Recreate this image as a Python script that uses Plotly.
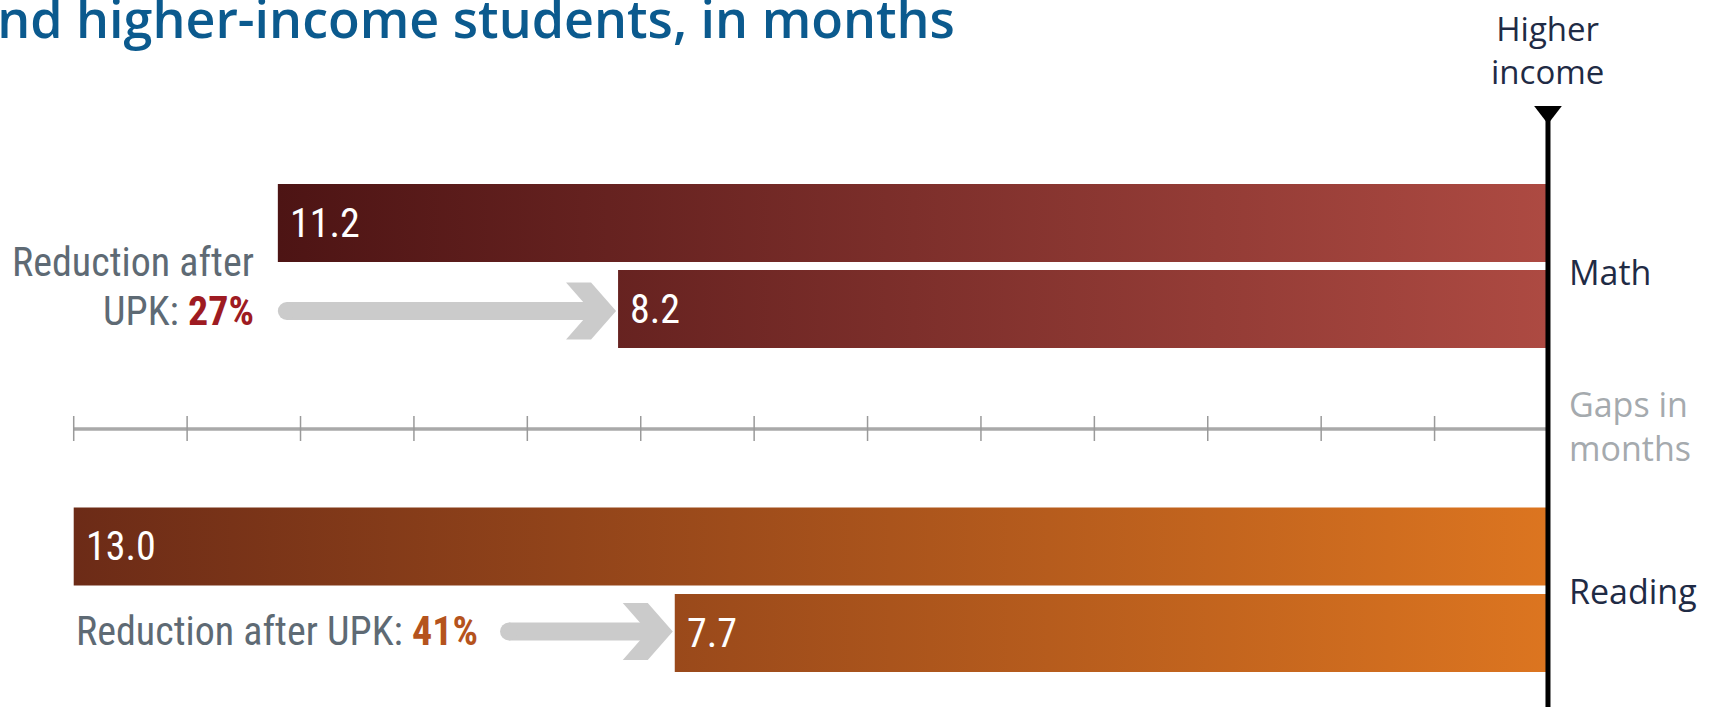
import plotly.graph_objects as go

# ---- data -------------------------------------------------------------
subjects = ["Math", "Reading"]
gap_without_upk = [11.2, 13.0]   # months behind higher-income peers
gap_after_upk = [8.2, 7.7]       # months behind after universal pre-K
tick_months = list(range(-13, 0))

# ---- layout constants -------------------------------------------------
W, H = 1725, 707
X_MIN, X_MAX = -13.65, 1.561
PX = W / (X_MAX - X_MIN)          # pixels per month on the x axis

ROW_Y = {"Math": (223, 309), "Reading": (546.5, 633)}
BAR_H = 78
GRAD = {"Math": ("#4d1414", "#ad4a42"), "Reading": ("#6c2b17", "#dc7520")}
PCT_COLOR = {"Math": "#9e1b22", "Reading": "#b5531d"}
ARROW_GREY = "#cbcbcb"
LABEL_GREY = "#5e6a74"
NAVY = "#1f2b45"

NARROW = "Liberation Sans Narrow, Arial Narrow, Roboto Condensed, sans-serif"
REGULAR = "Open Sans, Noto Sans, sans-serif"

AXIS_Y = 429

fig = go.Figure()


def px_to_months(p):
    return p / PX


# ---- bars with a horizontal gradient -----------------------------------
for subj, before, after in zip(subjects, gap_without_upk, gap_after_upk):
    c0, c1 = GRAD[subj]
    for val, yc in zip((before, after), ROW_Y[subj]):
        top, bot = yc - BAR_H / 2, yc + BAR_H / 2
        fig.add_trace(go.Scatter(
            x=[-val, 0, 0, -val, -val],
            y=[top, top, bot, bot, top],
            mode="lines", line=dict(width=0),
            fill="toself",
            fillgradient=dict(type="horizontal",
                              colorscale=[[0, c0], [1, c1]],
                              start=-before, stop=0),
            hoverinfo="skip", showlegend=False,
        ))
        fig.add_annotation(
            x=-val, y=yc, xref="x", yref="y", xanchor="left", yanchor="middle",
            xshift=10, text=f"{val:.1f}", showarrow=False,
            font=dict(family=NARROW, size=40, color="white"),
        )

# ---- grey reduction arrows ---------------------------------------------
ARROW_START_PX = {"Math": None, "Reading": 500}
CHEV_W, CHEV_ARM, CHEV_HALF, SHAFT = 50, 25, 28.5, 18
ARROW_Y = {"Math": 311, "Reading": 631.5}

for subj, before, after in zip(subjects, gap_without_upk, gap_after_upk):
    y = ARROW_Y[subj]
    tip = -after - px_to_months(2)
    if ARROW_START_PX[subj] is None:
        start = -before + px_to_months(SHAFT / 2)
    else:
        start = X_MIN + px_to_months(ARROW_START_PX[subj] + SHAFT / 2)
    notch = tip - px_to_months(CHEV_ARM)
    back = tip - px_to_months(CHEV_W)
    # shaft
    fig.add_trace(go.Scatter(
        x=[start, notch + px_to_months(4), notch + px_to_months(4), start, start],
        y=[y - SHAFT / 2, y - SHAFT / 2, y + SHAFT / 2, y + SHAFT / 2, y - SHAFT / 2],
        mode="lines", line=dict(width=0), fill="toself", fillcolor=ARROW_GREY,
        hoverinfo="skip", showlegend=False,
    ))
    # rounded tail
    fig.add_trace(go.Scatter(
        x=[start], y=[y], mode="markers",
        marker=dict(symbol="circle", size=SHAFT, color=ARROW_GREY, line=dict(width=0)),
        hoverinfo="skip", showlegend=False,
    ))
    # chevron head
    fig.add_trace(go.Scatter(
        x=[back, notch, tip, notch, back, back + px_to_months(CHEV_ARM), back],
        y=[y - CHEV_HALF, y - CHEV_HALF, y, y + CHEV_HALF, y + CHEV_HALF, y, y - CHEV_HALF],
        mode="lines", line=dict(width=0), fill="toself", fillcolor=ARROW_GREY,
        hoverinfo="skip", showlegend=False,
    ))

# ---- month scale ---------------------------------------------------------
fig.add_trace(go.Scatter(
    x=[tick_months[0], 0], y=[AXIS_Y, AXIS_Y], mode="lines",
    line=dict(color="#a9a9a9", width=3.5), hoverinfo="skip", showlegend=False,
))
tx, ty = [], []
for m in tick_months:
    tx += [m, m, None]
    ty += [AXIS_Y - 13, AXIS_Y + 12, None]
fig.add_trace(go.Scatter(
    x=tx, y=ty, mode="lines", line=dict(color="#9a9a9a", width=1.5),
    hoverinfo="skip", showlegend=False,
))

# ---- higher-income reference line ----------------------------------------
fig.add_trace(go.Scatter(
    x=[0, 0], y=[118, H + 5], mode="lines", line=dict(color="black", width=5),
    hoverinfo="skip", showlegend=False,
))
fig.add_trace(go.Scatter(
    x=[0], y=[112], mode="markers",
    marker=dict(symbol="triangle-down", size=24, color="black", line=dict(width=0)),
    hoverinfo="skip", showlegend=False,
))

# ---- text ------------------------------------------------------------------
pct = {s: round((b - a) / b * 100) for s, b, a in zip(subjects, gap_without_upk, gap_after_upk)}

fig.add_annotation(
    x=-gap_without_upk[0] - px_to_months(22), y=262, xref="x", yref="y",
    xanchor="right", yanchor="middle", showarrow=False, text="Reduction after",
    font=dict(family=NARROW, size=40, color=LABEL_GREY),
)
fig.add_annotation(
    x=-gap_without_upk[0] - px_to_months(22), y=311, xref="x", yref="y",
    xanchor="right", yanchor="middle", showarrow=False,
    text=f"UPK: <b><span style='color:{PCT_COLOR['Math']}'>{pct['Math']}%</span></b>",
    font=dict(family=NARROW, size=40, color=LABEL_GREY),
)
fig.add_annotation(
    x=-gap_without_upk[1], y=631, xref="x", yref="y",
    xanchor="left", yanchor="middle", showarrow=False,
    text=f"Reduction after UPK: <b><span style='color:{PCT_COLOR['Reading']}'>{pct['Reading']}%</span></b>",
    font=dict(family=NARROW, size=40, color=LABEL_GREY),
)

fig.add_annotation(
    x=0, y=50, xref="x", yref="y", xanchor="center", yanchor="middle",
    showarrow=False, text="Higher<br>income",
    font=dict(family=REGULAR, size=33, color=NAVY),
)
RIGHT_X = px_to_months(19)
fig.add_annotation(
    x=RIGHT_X, y=272, xref="x", yref="y", xanchor="left", yanchor="middle",
    showarrow=False, text="Math", font=dict(family=REGULAR, size=34, color=NAVY),
)
fig.add_annotation(
    x=RIGHT_X, y=426, xref="x", yref="y", xanchor="left", yanchor="middle",
    showarrow=False, text="Gaps in<br>months", align="left",
    font=dict(family=REGULAR, size=34, color="#a5aaae"),
)
fig.add_annotation(
    x=RIGHT_X, y=591, xref="x", yref="y", xanchor="left", yanchor="middle",
    showarrow=False, text="Reading", font=dict(family=REGULAR, size=34, color=NAVY),
)

# heading (continues from the line above, so it runs off the top-left edge)
fig.add_annotation(
    x=957 / W, y=17, xref="paper", yref="y", xanchor="right", yanchor="middle",
    showarrow=False, text="and higher-income students, in months",
    font=dict(family=REGULAR, size=52, color="#0b5a8e", weight=600),
)

fig.update_layout(
    width=W, height=H,
    margin=dict(l=0, r=0, t=0, b=0),
    paper_bgcolor="white", plot_bgcolor="white",
    xaxis=dict(range=[X_MIN, X_MAX], visible=False, fixedrange=True),
    yaxis=dict(range=[H, 0], visible=False, fixedrange=True),
    showlegend=False,
)

fig.write_html("out.html")
